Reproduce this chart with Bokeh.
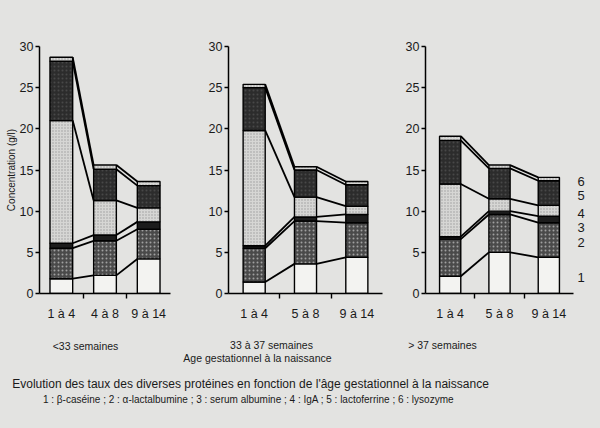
from bokeh.plotting import figure
from bokeh.layouts import column, row
from bokeh.models import Range1d, FixedTicker, Label
from bokeh.embed import file_html
from bokeh.resources import INLINE

# ---------------- data ----------------
cats_lt33 = ["1 à 4", "4 à 8", "9 à 14"]
cats_other = ["1 à 4", "5 à 8", "9 à 14"]
groups = ["<33 semaines", "33 à 37 semaines", "> 37 semaines"]
y_ticks = [0, 5, 10, 15, 20, 25, 30]
protein_numbers = ["1", "2", "3", "4", "5", "6"]

# segment heights (g/l), per panel [<33, 33-37, >37], per lactation period
casein = [[1.8, 2.2, 4.2], [1.4, 3.6, 4.4], [2.1, 5.0, 4.4]]
lactalbumin = [[3.7, 4.2, 3.6], [4.1, 5.2, 4.2], [4.5, 4.6, 4.2]]
albumin = [[0.6, 0.7, 0.9], [0.3, 0.5, 1.0], [0.3, 0.4, 0.8]]
iga = [[14.9, 4.2, 1.7], [14.0, 2.4, 1.0], [6.4, 1.5, 1.3]]
lactoferrin = [[7.2, 3.8, 2.7], [5.2, 3.3, 2.6], [5.3, 3.7, 3.0]]
lysozyme = [[0.5, 0.5, 0.5], [0.4, 0.4, 0.4], [0.5, 0.4, 0.4]]

axis_title = "Concentration (g/l)"
x_title = "Age gestationnel à la naissance"
title = "Evolution des taux des diverses protéines en fonction de l'âge gestationnel à la naissance"
caption = "1 : β-caséine ; 2 : α-lactalbumine ; 3 : serum albumine ; 4 : IgA ; 5 : lactoferrine ; 6 : lysozyme"

# ---------------- style ----------------
BG = "#e3e3e1"
FONT = "Liberation Sans"
proteins = [casein, lactalbumin, albumin, iga, lactoferrin, lysozyme]
styles = [
    dict(fill_color="#f3f3f1"),
    dict(fill_color="#4a4a4a", hatch_pattern="dot", hatch_color="#a0a0a0", hatch_scale=4, hatch_weight=1),
    dict(fill_color="#1c1c1c"),
    dict(fill_color="#d6d6d4", hatch_pattern="dot", hatch_color="#9d9d9d", hatch_scale=3, hatch_weight=1),
    dict(fill_color="#2c2c2c", hatch_pattern="dot", hatch_color="#484848", hatch_scale=4, hatch_weight=1),
    dict(fill_color="#d6d6d4", hatch_pattern="dot", hatch_color="#9d9d9d", hatch_scale=3, hatch_weight=1),
]

# page margin set to 0 below: coordinates are page pixels
# (fig width, border left, border right, axis length px, bar width)
geo = [(195, 39, 25, 131, 0.52), (200, 33, 13, 154, 0.43), (205, 30, 8, 148, 0.43)]
TOP = 46
BOTTOM = 40
H = 333

figs = []
for g in range(3):
    W, bl, br, axlen, bw = geo[g]
    cats = cats_lt33 if g == 0 else cats_other
    frame_w = W - bl - br
    x_end = -0.5 + 3.0 * frame_w / axlen
    p = figure(width=W, height=H, x_range=Range1d(-0.5, x_end), y_range=Range1d(0, 30),
               output_backend="svg", toolbar_location=None,
               min_border_left=bl, min_border_right=br, min_border_top=TOP, min_border_bottom=BOTTOM)
    p.background_fill_color = BG
    p.border_fill_color = BG
    p.outline_line_color = None
    p.grid.visible = False

    xs = list(range(len(cats)))
    cum_prev = [0.0] * 3
    levels = []
    for k, prot in enumerate(proteins):
        seg = prot[g]
        cum = [cum_prev[i] + seg[i] for i in range(3)]
        p.vbar(x=xs, width=bw, bottom=cum_prev, top=cum, line_color="black", line_width=1.4,
               **styles[k])
        levels.append(cum)
        cum_prev = cum
    # connecting lines between bars
    for cum in levels:
        x0 = [i + bw / 2 for i in range(2)]
        x1 = [i + 1 - bw / 2 for i in range(2)]
        p.segment(x0=x0, y0=cum[:2], x1=x1, y1=cum[1:], line_color="black", line_width=1.8)

    # axes
    p.xaxis.bounds = (-0.5, 2.5)
    p.xaxis.ticker = FixedTicker(ticks=xs, minor_ticks=[0.5, 1.5])
    p.xaxis.major_label_overrides = {i: c for i, c in enumerate(cats)}
    p.xaxis.major_tick_out = 0
    p.xaxis.major_tick_in = 0
    p.xaxis.minor_tick_out = 5
    p.xaxis.minor_tick_in = 0
    p.xaxis.minor_tick_line_color = "black"
    p.xaxis.minor_tick_line_width = 1.4
    p.xaxis.major_label_standoff = 8
    p.yaxis.ticker = FixedTicker(ticks=y_ticks)
    p.yaxis.major_tick_out = 4
    p.yaxis.major_tick_in = 0
    p.yaxis.major_label_standoff = 2
    p.yaxis.minor_tick_line_color = None
    for ax in (p.xaxis, p.yaxis):
        ax.axis_line_color = "black"
        ax.axis_line_width = 1.5
        ax.major_tick_line_color = "black"
        ax.major_tick_line_width = 1.4
        ax.major_label_text_font = FONT
        ax.major_label_text_font_size = "12.5px"
        ax.major_label_text_color = "#1a1a1a"
    if g == 0:
        p.yaxis.axis_label = axis_title
        p.yaxis.axis_label_text_font = FONT
        p.yaxis.axis_label_text_font_style = "normal"
        p.yaxis.axis_label_text_font_size = "10px"
        p.yaxis.axis_label_standoff = 0
        p.yaxis.axis_label_text_color = "#1a1a1a"
    if g == 2:
        seg_last = [prot[g][2] for prot in proteins]
        mids = []
        c = 0.0
        for s in seg_last:
            mids.append(c + s / 2)
            c += s
        ys = [0.0] * 6
        prev = None
        for k in range(5, -1, -1):
            ys[k] = mids[k] - 0.3 if prev is None else min(mids[k] - 0.3, prev - 1.7)
            prev = ys[k]
        for k in range(6):
            p.add_layout(Label(x=2.5, y=ys[k], x_offset=4, text=protein_numbers[k],
                               text_font=FONT, text_font_size="13px", text_baseline="middle",
                               text_align="left", text_color="#1a1a1a"))
    figs.append(p)

# ---------------- caption area ----------------
cw, ch = 600, 95
t = figure(width=cw, height=ch, x_range=Range1d(0, cw), y_range=Range1d(ch, 0),
           output_backend="svg", toolbar_location=None, min_border=0)
t.axis.visible = False
t.grid.visible = False
t.outline_line_color = None
t.background_fill_color = BG
t.border_fill_color = BG

def lab(x, y, txt, size):
    t.add_layout(Label(x=x, y=y, text=txt, text_font=FONT, text_font_size=size,
                       text_align="center", text_baseline="middle", text_color="#1a1a1a"))

lab(85, 12, groups[0], "10.5px")
lab(271, 11, groups[1], "10.5px")
lab(442, 11, groups[2], "10.5px")
lab(257, 24, x_title, "10.5px")
lab(250, 50, title, "12px")
lab(248, 66, caption, "10px")

layout = column(row(*figs, spacing=0), t, spacing=0)
html = file_html(layout, INLINE)
css = "<style>html,body{background-color:%s;overflow:hidden;margin:0;padding:0;}</style>" % BG
html = html.replace("</head>", css + "</head>", 1)
open("out.html", "w").write(html)
